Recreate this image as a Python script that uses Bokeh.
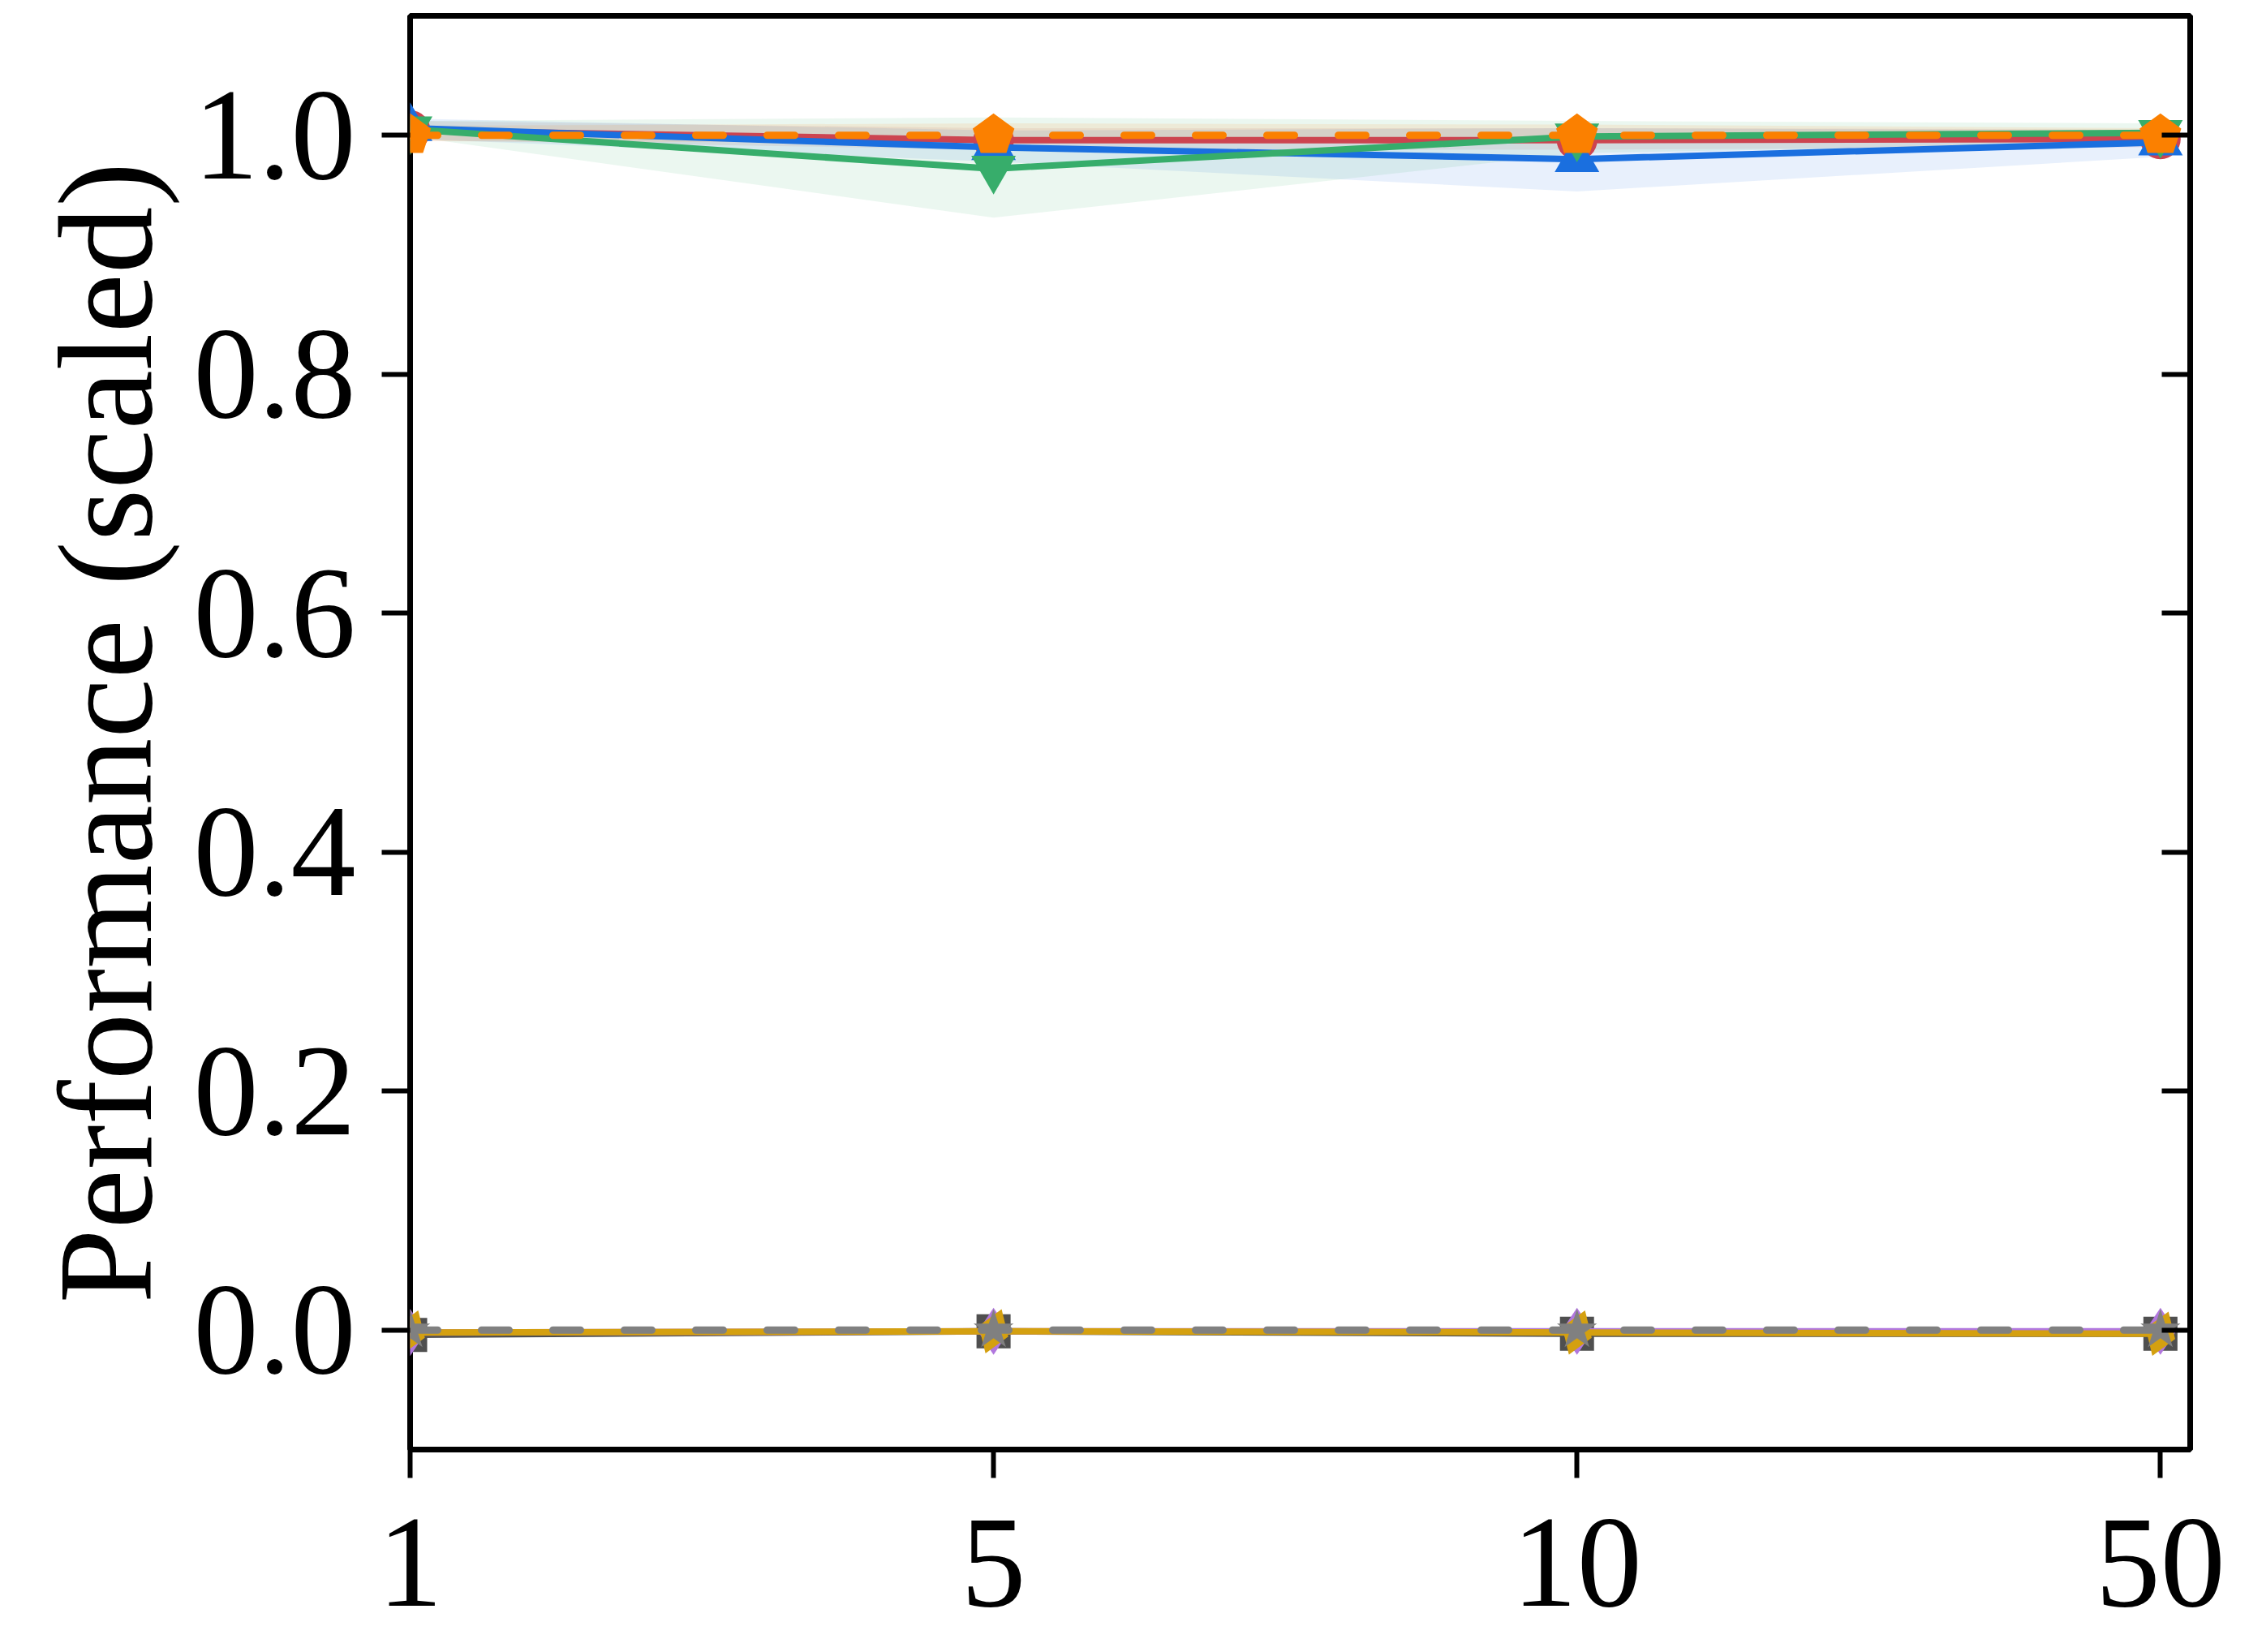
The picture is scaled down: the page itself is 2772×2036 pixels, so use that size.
from bokeh.plotting import figure
from bokeh.models import Range1d, FixedTicker, LinearAxis, PrintfTickFormatter
from bokeh.embed import file_html
from bokeh.resources import INLINE

# ---------------- data ----------------
x_labels = ["1", "5", "10", "50"]
y_ticks = [0.0, 0.2, 0.4, 0.6, 0.8, 1.0]
y_label = "Performance (scaled)"

red_mean = [1.004, 0.996, 0.996, 0.997]
red_lo = [0.996, 0.988, 0.988, 0.990]
red_hi = [1.012, 1.006, 1.006, 1.005]

blue_mean = [1.006, 0.990, 0.980, 0.994]
blue_lo = [0.997, 0.978, 0.953, 0.982]
blue_hi = [1.014, 1.004, 1.006, 1.004]

green_mean = [1.005, 0.972, 0.999, 1.002]
green_lo = [0.999, 0.931, 0.985, 0.994]
green_hi = [1.012, 1.015, 1.012, 1.010]

orange_mean = [1.000, 1.000, 1.000, 1.000]
orange_lo = [0.995, 0.994, 0.995, 0.996]
orange_hi = [1.008, 1.010, 1.009, 1.006]

dark_mean = [-0.004, -0.001, -0.003, -0.003]
purple_mean = [-0.002, -0.001, -0.001, -0.001]
gold_mean = [-0.002, -0.001, -0.002, -0.003]
gray_mean = [0.000, 0.000, 0.000, 0.000]

# ---------------- style ----------------
RED = "#CC4450"
BLUE = "#1A6FDF"
GREEN = "#37AD6B"
ORANGE = "#FB8000"
DARK = "#4F4F4F"
PURPLE = "#B177DE"
GOLD = "#D4A010"
GRAY = "#808080"
FONT = "'Liberation Serif', 'Times New Roman', Times, serif"
FS_TICK = "160px"
FS_LABEL = "165px"

xi = list(range(len(x_labels)))

p = figure(frame_width=2194, frame_height=1767,
           x_range=Range1d(0, 3.051), y_range=Range1d(-0.1, 1.1),
           output_backend="svg", toolbar_location=None,
           min_border_left=505, min_border_top=19,
           min_border_right=50, min_border_bottom=235)
p.grid.visible = False
p.outline_line_color = "black"
p.outline_line_width = 7
p.background_fill_color = "white"
p.border_fill_color = "white"

# bands
for lo, hi, c in [(red_lo, red_hi, RED), (blue_lo, blue_hi, BLUE),
                  (green_lo, green_hi, GREEN), (orange_lo, orange_hi, ORANGE)]:
    p.varea(x=xi, y1=lo, y2=hi, fill_color=c, fill_alpha=0.1)

# top group
p.line(xi, red_mean, line_color=RED, line_width=8)
p.scatter(xi, red_mean, marker="circle", size=50, fill_color=RED, line_color=None)

p.line(xi, blue_mean, line_color=BLUE, line_width=8)
p.scatter(xi, blue_mean, marker="triangle", size=55, fill_color=BLUE, line_color=None)

p.line(xi, green_mean, line_color=GREEN, line_width=8)
p.scatter(xi, green_mean, marker="inverted_triangle", size=55, fill_color=GREEN, line_color=None)

# bottom group
p.line(xi, dark_mean, line_color=DARK, line_width=8)
p.scatter(xi, dark_mean, marker="square", size=42, fill_color=DARK, line_color=None)

p.line(xi, purple_mean, line_color=PURPLE, line_width=8)
p.scatter(xi, purple_mean, marker="diamond", size=58, fill_color=PURPLE, line_color=None)

p.line(xi, gold_mean, line_color=GOLD, line_width=8)
p.scatter(xi, gold_mean, marker="diamond", size=58, angle=-0.35, fill_color=GOLD, line_color=None)

p.line(xi, orange_mean, line_color=ORANGE, line_width=9, line_dash="34 54", line_cap="round")
p.ngon(x=xi, y=orange_mean, radius=27, radius_units="screen", n=5, angle=0.0,
       fill_color=ORANGE, line_color=None)

p.line(xi, gray_mean, line_color=GRAY, line_width=9, line_dash="34 54", line_cap="round")
p.scatter(xi, gray_mean, marker="star", size=52, fill_color=GRAY, line_color=None)

# axes
xa = p.xaxis[0]
xa.ticker = FixedTicker(ticks=xi)
xa.major_label_overrides = {i: s for i, s in zip(xi, x_labels)}
ya = p.yaxis[0]
ya.ticker = FixedTicker(ticks=y_ticks)
ya.formatter = PrintfTickFormatter(format="%.1f")
ya.axis_label = y_label
ya.axis_label_text_font = FONT
ya.axis_label_text_font_size = FS_LABEL
ya.axis_label_text_font_style = "normal"
ya.axis_label_text_color = "black"
ya.axis_label_standoff = 14

for ax in (xa, ya):
    ax.axis_line_color = None
    ax.major_tick_line_color = "black"
    ax.major_tick_line_width = 6
    ax.major_tick_out = 35
    ax.major_tick_in = 0
    ax.minor_tick_line_color = None
    ax.major_label_text_font = FONT
    ax.major_label_text_font_size = FS_TICK
    ax.major_label_text_color = "black"
xa.major_label_standoff = 51
ya.major_label_standoff = 32

ra = LinearAxis(ticker=FixedTicker(ticks=y_ticks), axis_line_color=None,
                major_tick_in=35, major_tick_out=0, major_tick_line_width=6,
                major_tick_line_color="black", minor_tick_line_color=None,
                major_label_text_color=None, major_label_standoff=0)
p.add_layout(ra, "right")

open("out.html", "w").write(file_html(p, INLINE))
